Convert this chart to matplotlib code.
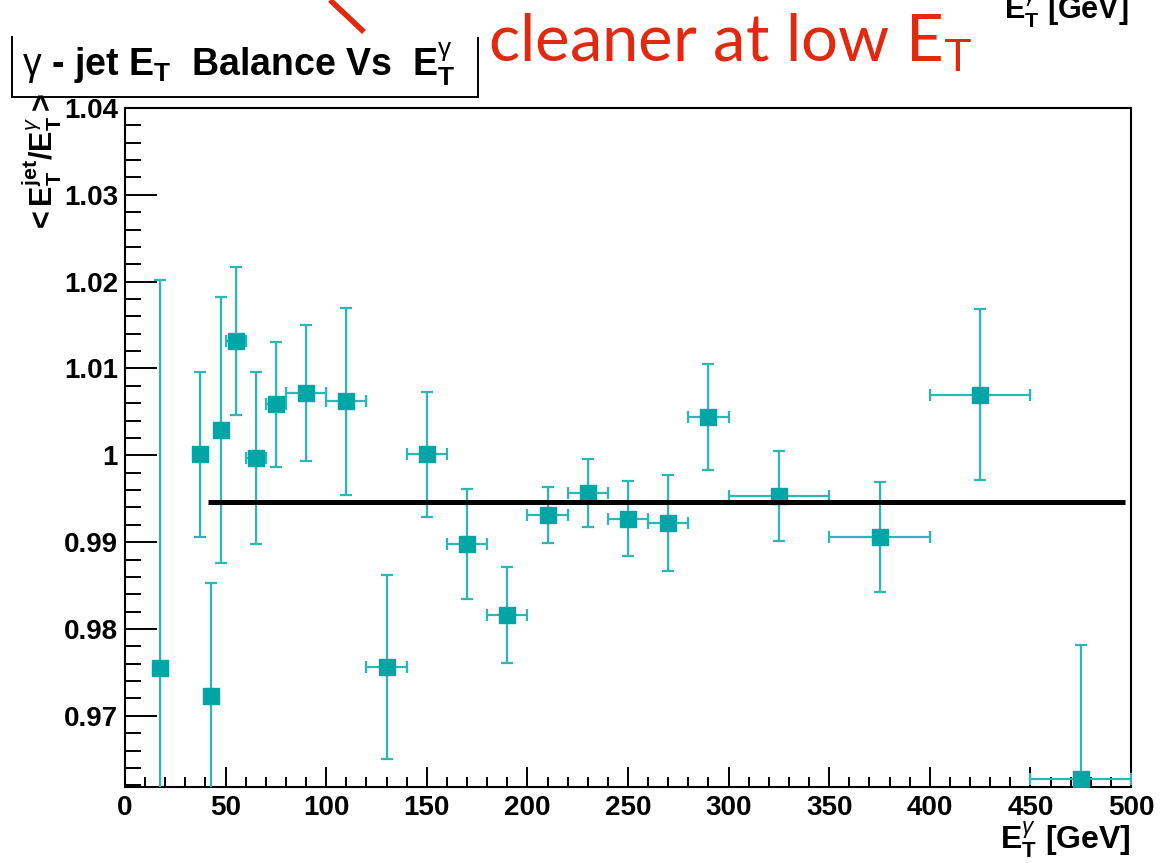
import matplotlib
matplotlib.use("Agg")
import matplotlib.pyplot as plt
from matplotlib.lines import Line2D
from matplotlib.ticker import MultipleLocator

plt.rcParams['font.family'] = ['Liberation Sans', 'DejaVu Sans']
plt.rcParams['mathtext.fontset'] = 'custom'
plt.rcParams['mathtext.rm'] = 'Liberation Sans'
plt.rcParams['mathtext.bf'] = 'Liberation Sans:bold'
plt.rcParams['mathtext.it'] = 'Liberation Sans:italic'

# ---- data ----
et_gamma = [17.5, 37.5, 42.5, 47.5, 55, 65, 75, 90, 110, 130, 150, 170, 190,
            210, 230, 250, 270, 290, 325, 375, 425, 475]
et_halfbin = [2.5, 2.5, 2.5, 2.5, 5, 5, 5, 10, 10, 10, 10, 10, 10,
              10, 10, 10, 10, 10, 25, 25, 25, 25]
balance = [0.9755, 1.0001, 0.9723, 1.0029, 1.0132, 0.9997, 1.0059, 1.0072, 1.0062,
           0.9756, 1.0001, 0.9898, 0.9816, 0.9931, 0.9957, 0.9927, 0.9922, 1.0044,
           0.9953, 0.9906, 1.0070, 0.9627]
balance_err = [0.0447, 0.0095, 0.0130, 0.0153, 0.0085, 0.0099, 0.0072, 0.0078, 0.0108,
               0.0106, 0.0072, 0.0063, 0.0055, 0.0032, 0.0039, 0.0043, 0.0055, 0.0061,
               0.0052, 0.0063, 0.0098, 0.0154]
fit_range = [41.5, 497.0]
fit_value = 0.9946

W, H = 1160, 863
fig = plt.figure(figsize=(W / 100, H / 100), dpi=100)
ax = fig.add_axes([125 / W, 1 - 787 / H, (1131 - 125) / W, (787 - 108) / H])

teal = '#00a5a5'
ax.errorbar(et_gamma, balance, yerr=balance_err, xerr=et_halfbin,
            fmt='s', color=teal, mec=teal, ecolor='#2cb6b6', elinewidth=1.6,
            capsize=4.5, capthick=1.6, markersize=11.5,
            zorder=3)
ax.plot(fit_range, [fit_value, fit_value], color='black', linewidth=3.6,
        solid_capstyle='butt', zorder=4)

ax.set_xlim(0, 500)
ax.set_ylim(0.9618, 1.04)
ax.xaxis.set_major_locator(MultipleLocator(50))
ax.xaxis.set_minor_locator(MultipleLocator(10))
ax.yaxis.set_major_locator(MultipleLocator(0.01))
ax.yaxis.set_minor_locator(MultipleLocator(0.002))
ax.tick_params(axis='both', which='both', direction='in', top=False, right=False,
               width=1.4, colors='black')
ax.tick_params(axis='y', which='major', length=23, pad=5, labelsize=20)
ax.tick_params(axis='y', which='minor', length=11.5)
ax.tick_params(axis='x', which='major', length=14.5, pad=6, labelsize=20)
ax.tick_params(axis='x', which='minor', length=7)
ax.set_yticks([0.97, 0.98, 0.99, 1.00, 1.01, 1.02, 1.03, 1.04])
ax.set_yticklabels(['0.97', '0.98', '0.99', '1', '1.01', '1.02', '1.03', '1.04'])
for lab in ax.get_xticklabels() + ax.get_yticklabels():
    lab.set_fontweight('bold')
for s in ax.spines.values():
    s.set_linewidth(1.5)

# axis titles
fig.text(1131 / W, 1 - 840 / H, r'$\mathbf{E}_{\mathbf{T}}^{\gamma}$ [GeV]',
         ha='right', va='center', fontsize=23, fontweight='bold')
fig.text(42 / W, 1 - 93 / H,
         r'$\mathbf{<E}_{\mathbf{T}}^{\mathbf{jet}}\mathbf{/E}_{\mathbf{T}}^{\gamma}\mathbf{>}$',
         rotation=90, ha='center', va='top', fontsize=22, fontweight='bold')

# cut-off label at top right (partly outside the picture, as in the source)
fig.text(1004 / W, 1 - 20 / H, r'$\mathbf{E}_{\mathbf{T}}^{\gamma}$ [GeV]',
         ha='left', va='baseline', fontsize=22, fontweight='bold')

# title box
fig.text(22 / W, 1 - 75 / H,
         r'$\mathrm{\gamma}$ - jet E$_{\mathbf{T}}$  Balance Vs  E$_{\mathbf{T}}^{\mathrm{\gamma}}$',
         ha='left', va='baseline', fontsize=27, fontweight='bold')
for xs, ys in [([12, 12], [37, 97]), ([12, 478], [97, 97]), ([478, 478], [38, 97])]:
    fig.add_artist(Line2D([x / W for x in xs], [1 - y / H for y in ys],
                          color='black', linewidth=1.4))

# red annotation
red = '#e2290f'
fig.add_artist(Line2D([330 / W, 364 / W], [1 - 0 / H, 1 - 32 / H], color=red,
                      linewidth=4.0, solid_capstyle='butt'))
fig.text(488 / W, 1 - 62 / H, r'cleaner at low E$_{\mathrm{T}}$', color=red,
         ha='left', va='baseline', fontsize=47, family=['Lato', 'DejaVu Sans'])

fig.savefig('out.png', dpi=100)
